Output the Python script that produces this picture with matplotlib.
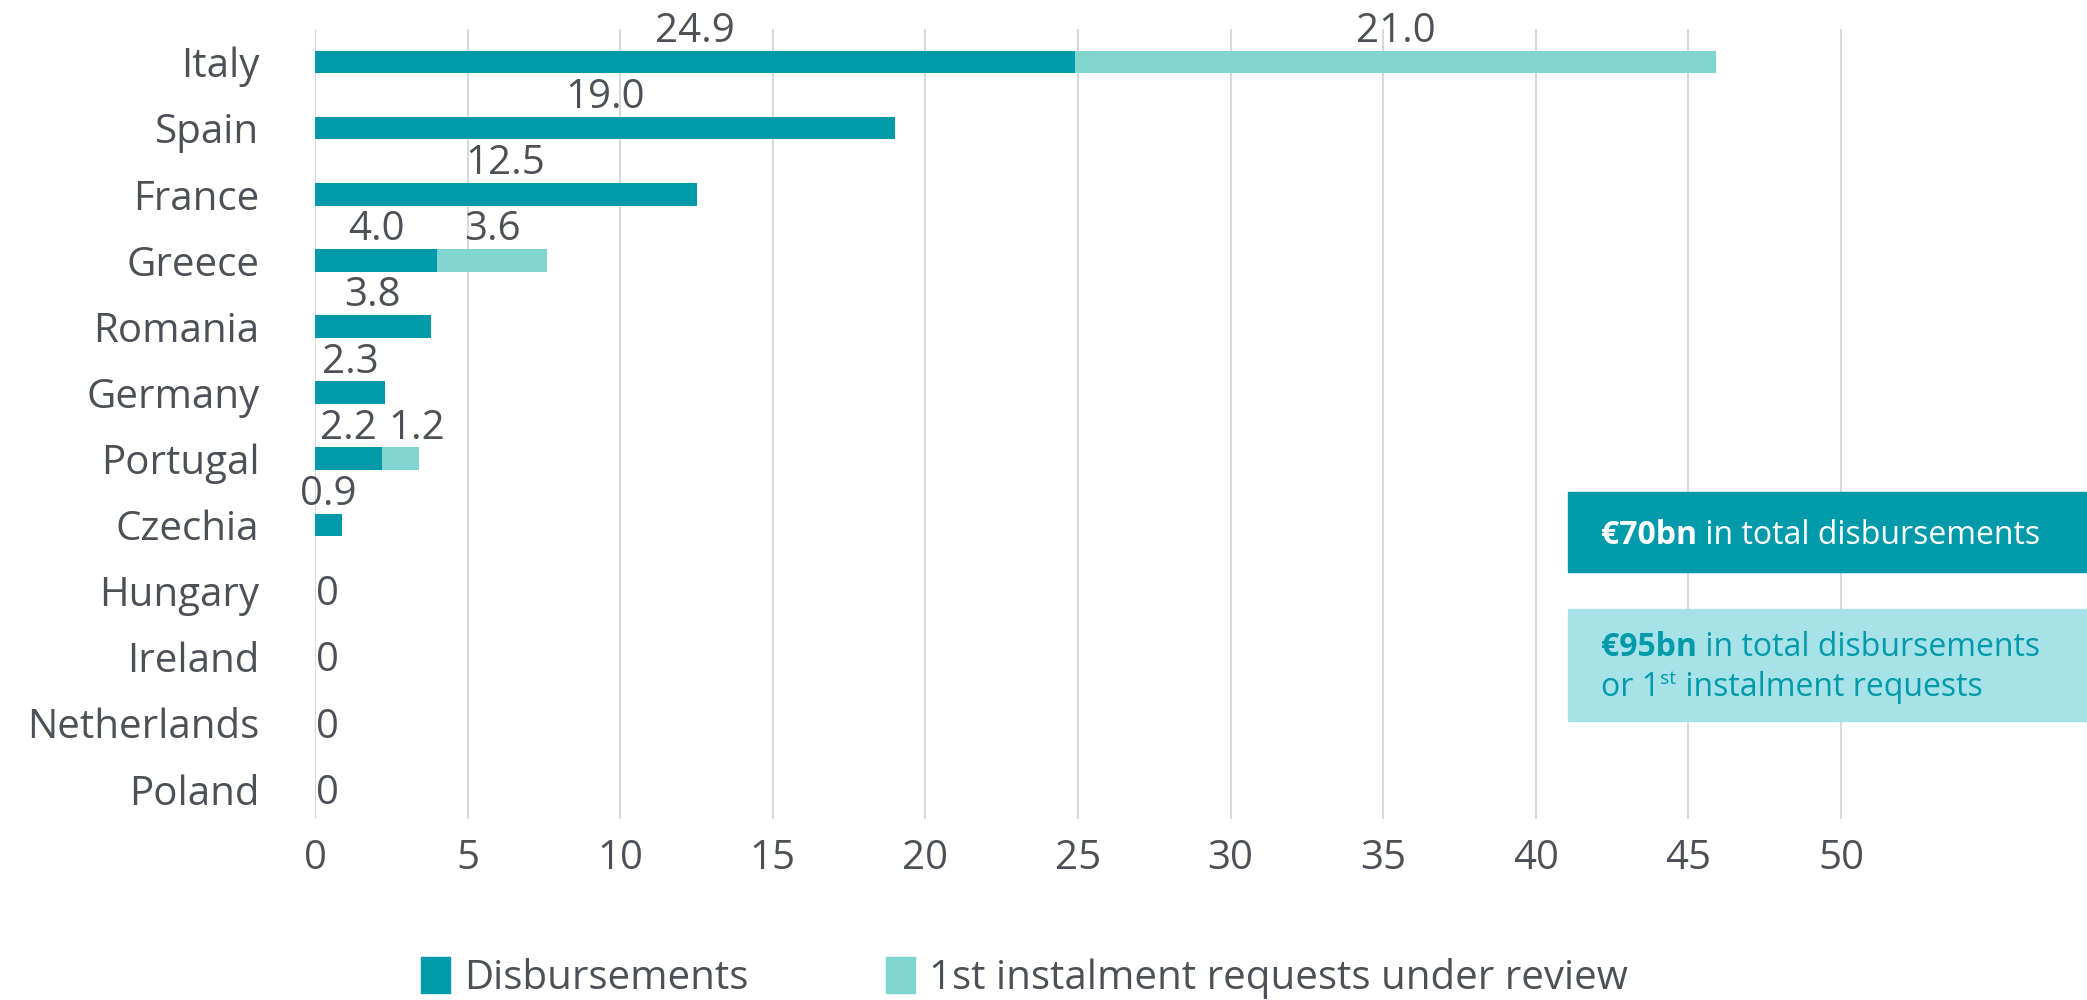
import matplotlib
matplotlib.use("Agg")
import matplotlib.pyplot as plt
from matplotlib.patches import Rectangle, Patch
from matplotlib.text import Annotation
import numpy as np

countries = ["Italy", "Spain", "France", "Greece", "Romania", "Germany",
             "Portugal", "Czechia", "Hungary", "Ireland", "Netherlands", "Poland"]
disbursements = [24.9, 19.0, 12.5, 4.0, 3.8, 2.3, 2.2, 0.9, 0, 0, 0, 0]
requests = [21.0, 0, 0, 3.6, 0, 0, 1.2, 0, 0, 0, 0, 0]
xticks = [0, 5, 10, 15, 20, 25, 30, 35, 40, 45, 50]
series_names = ["Disbursements", "1st instalment requests under review"]

DARK = "#009aaa"
LIGHT = "#80d6cf"
BOX2 = "#a6e2e8"
TXT = "#4d5056"
GRID = "#d9d9d9"

plt.rcParams['font.family'] = ['Open Sans', 'DejaVu Sans']

fig = plt.figure(figsize=(20.87, 10), dpi=100)
ax = fig.add_axes([315/2087, 0.181, (55*30.52)/2087, 0.790])

y = np.arange(len(countries))
h = 0.34
ax.barh(y, disbursements, height=h, color=DARK, zorder=3)
ax.barh(y, requests, left=disbursements, height=h, color=LIGHT, zorder=3)

for i, (d, r) in enumerate(zip(disbursements, requests)):
    if d > 0:
        ax.annotate(f"{d:.1f}", xy=(d/2, i - 0.5), xytext=(0, -2),
                    textcoords='offset points', ha='center', va='center',
                    fontsize=29, color=TXT)
    else:
        ax.annotate("0", xy=(0.4, i), xytext=(0, -3),
                    textcoords='offset points', ha='center', va='center',
                    fontsize=29, color=TXT)
    if r > 0:
        nudge = 12 if r < 2 else 0
        ax.annotate(f"{r:.1f}", xy=(d + r/2, i - 0.5), xytext=(nudge, -2),
                    textcoords='offset points', ha='center', va='center',
                    fontsize=29, color=TXT)

ax.set_ylim(len(countries) - 0.55, -0.5)
ax.set_xlim(0, 55)
ax.set_yticks(y)
ax.set_yticklabels(countries, fontsize=29, color=TXT)
ax.set_xticks(xticks)
ax.set_xticklabels([str(t) for t in xticks], fontsize=29, color=TXT)
ax.tick_params(axis='y', length=0, pad=40)
ax.tick_params(axis='x', length=0, pad=14)
for s in ax.spines.values():
    s.set_visible(False)
ax.grid(axis='x', color=GRID, linewidth=1.5, zorder=0)
ax.set_axisbelow(True)

# Annotation boxes
W, H = 2087, 1000
fig.patches.append(Rectangle((1568/W, 1 - 572/H), (W-1568)/W, 80/H,
                             transform=fig.transFigure, color=DARK, zorder=5))
fig.patches.append(Rectangle((1568/W, 1 - 721/H), (W-1568)/W, 112/H,
                             transform=fig.transFigure, color=BOX2, zorder=5))


def chain(prev, s, size, color, xy=(1, 0), dx=0, weight='normal'):
    a = Annotation(s, xy=xy, xycoords=prev, xytext=(dx, 0),
                   textcoords='offset points', fontsize=size, color=color,
                   va='bottom', ha='left', fontweight=weight,
                   annotation_clip=False, zorder=7)
    fig.add_artist(a)
    return a


FS = 23
t1 = fig.text(1601/W, 1 - 544/H, "€70bn", fontsize=FS, fontweight='bold',
              color='white', va='baseline', zorder=6)
chain(t1, " in total disbursements", FS, 'white')

t2 = fig.text(1601/W, 1 - 656/H, "€95bn", fontsize=FS, fontweight='bold',
              color=DARK, va='baseline', zorder=6)
chain(t2, " in total disbursements", FS, DARK)
t3 = fig.text(1601/W, 1 - 696/H, "or 1", fontsize=FS, color=DARK,
              va='baseline', zorder=6)
chain(t3, "st", 14, DARK, xy=(1, 0.5))
chain(t3, " instalment requests", FS, DARK, dx=12)

handles = [Patch(color=DARK), Patch(color=LIGHT)]
fig.legend(handles, series_names, loc='center', bbox_to_anchor=(0.491, 0.022),
           ncol=2, frameon=False, fontsize=29, labelcolor=TXT,
           handlelength=0.72, handleheight=1.0, handletextpad=0.35,
           columnspacing=3.4)

fig.savefig("out.png", dpi=100)
